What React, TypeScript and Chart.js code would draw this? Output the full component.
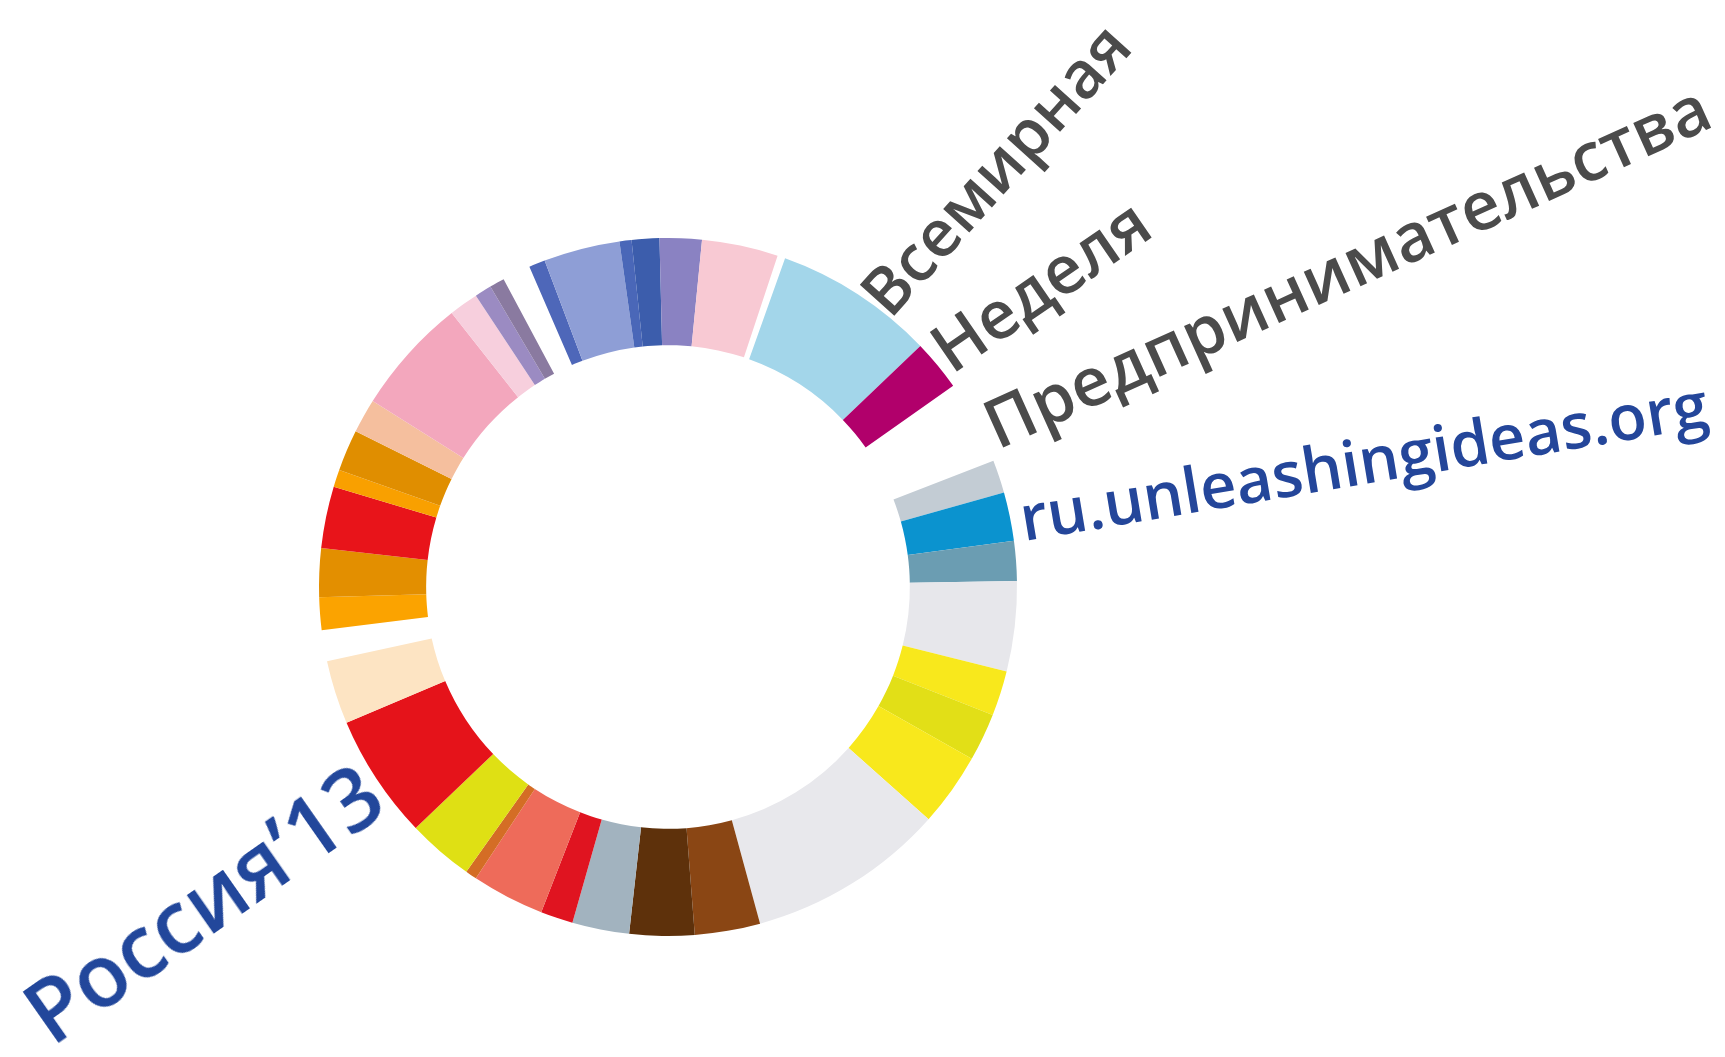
import React, { useEffect, useRef } from "react";
import { Chart, registerables } from "chart.js";

Chart.register(...registerables);

// Angular widths (degrees) of each ring segment, clockwise from the start angle
const segmentNames = [
  "dark blue", "periwinkle", "blue 1", "blue 2", "purple", "light pink", "gap 1",
  "light blue", "magenta", "gap 2", "grey", "blue", "steel", "light grey 1",
  "yellow 1", "yellow green", "yellow 2", "light grey 2", "brown", "dark brown",
  "grey blue", "red 1", "salmon", "orange thin", "lime", "red 2", "cream", "gap 3",
  "orange 1", "orange 2", "red 3", "orange 3", "orange 4", "peach", "pink",
  "pale pink", "lavender", "mauve", "gap 4",
];
const segmentValues = [
  2.7, 12.7, 2.0, 4.6, 7.0, 12.7, 1.3,
  26.7, 8.5, 14.0, 5.5, 8.1, 6.6, 15.0,
  7.5, 8.0, 12.2, 33.0, 10.9, 10.8,
  9.5, 5.4, 12.1, 1.9, 11.0, 20.8, 10.6, 5.2,
  5.4, 8.1, 10.3, 2.9, 6.9, 5.7, 19.5,
  4.9, 2.8, 2.5, 4.7,
];
const segmentColors = [
  "#4e67b9", "#8e9ed6", "#4a67b8", "#3c5dac", "#8a82c2", "#f8c9d3", "rgba(0,0,0,0)",
  "#a3d6ea", "#b1006b", "rgba(0,0,0,0)", "#c3ccd4", "#0b93cf", "#6b9db2", "#e7e7eb",
  "#f8e81c", "#e2df17", "#f8e81c", "#e8e8ec", "#8a4614", "#5e310b",
  "#a2b3bf", "#e01420", "#ee6b5a", "#d46d25", "#dfe014", "#e5131a", "#fde4c3", "rgba(0,0,0,0)",
  "#fba300", "#e38f00", "#e8141a", "#f9a000", "#e08e00", "#f5bf9e", "#f3a7bd",
  "#f7cfdd", "#9b8bc2", "#8a7aa0", "rgba(0,0,0,0)",
];
const startAngle = 336.6;

const titleLines = ["Всемирная", "Неделя", "Предпринимательства"];
const urlText = "ru.unleashingideas.org";
const yearText = "Россия’13";

type Label = { text: string; x: number; y: number; angle: number; size: number; color: string };

function RotatedText({ text, x, y, angle, size, color }: Label) {
  const base = size * 0.89;
  return (
    <div
      style={{
        position: "absolute",
        left: x,
        top: y - base,
        transform: `rotate(${-angle}deg)`,
        transformOrigin: `0px ${base}px`,
        fontFamily: "'Open Sans', sans-serif",
        fontWeight: 600,
        fontSize: size,
        lineHeight: 1,
        color,
        whiteSpace: "nowrap",
      }}
    >
      {text}
    </div>
  );
}

export default function App() {
  const canvasRef = useRef<HTMLCanvasElement | null>(null);

  useEffect(() => {
    const canvas = canvasRef.current;
    if (!canvas) return;
    const chart = new Chart(canvas, {
      type: "doughnut",
      data: {
        labels: segmentNames,
        datasets: [
          {
            data: segmentValues,
            backgroundColor: segmentColors,
            borderWidth: 0,
            hoverOffset: 0,
          },
        ],
      },
      options: {
        responsive: false,
        animation: false,
        devicePixelRatio: 1,
        rotation: startAngle,
        radius: 349,
        cutout: "69.3%",
        layout: { padding: { left: 319, right: 708, top: 238, bottom: 121 } },
        plugins: { legend: { display: false }, tooltip: { enabled: false } },
        events: [],
      },
    });
    return () => chart.destroy();
  }, []);

  const labels: Label[] = [
    { text: titleLines[0], x: 891, y: 321, angle: 48, size: 65, color: "#4b4b4b" },
    { text: titleLines[1], x: 952, y: 376, angle: 34.5, size: 67, color: "#4b4b4b" },
    { text: titleLines[2], x: 998, y: 451, angle: 24.3, size: 67.5, color: "#4b4b4b" },
    { text: urlText, x: 1024, y: 541, angle: 9.5, size: 63, color: "#24469a" },
    { text: yearText, x: 52, y: 1048, angle: 35, size: 86, color: "#22479b" },
  ];

  return (
    <div
      style={{
        position: "fixed",
        left: 0,
        top: 0,
        width: 1725,
        height: 1057,
        background: "#ffffff",
        overflow: "hidden",
      }}
    >
      <canvas ref={canvasRef} width={1725} height={1057} style={{ position: "absolute", left: 0, top: 0 }} />
      {labels.map((l) => (
        <RotatedText key={l.text} {...l} />
      ))}
    </div>
  );
}
